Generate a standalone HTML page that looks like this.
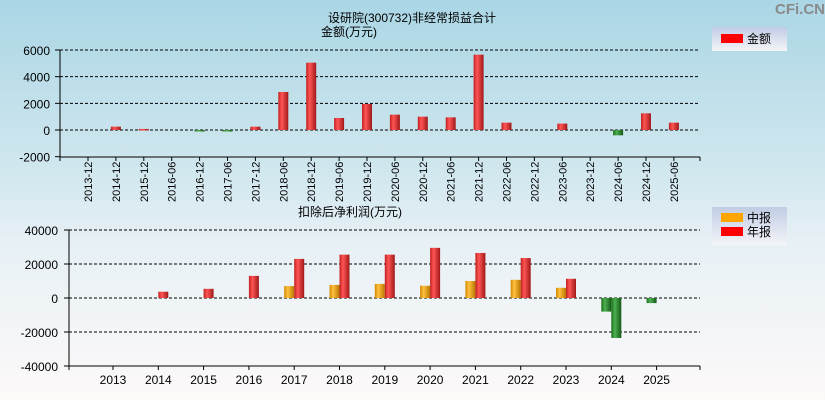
<!DOCTYPE html>
<html><head><meta charset="utf-8"><style>
body{margin:0;width:825px;height:400px;overflow:hidden;background:linear-gradient(#aad6e5,#d3e8ef 45%,#e6f0f5 60%,#fdf9f9);font-family:"Liberation Sans","Noto Sans CJK SC",sans-serif}
svg{position:absolute;left:0;top:0}
text{font-family:"Liberation Sans","Noto Sans CJK SC",sans-serif}
</style></head><body>
<svg width="825" height="400">
<defs>
<linearGradient id="gr" x1="0" x2="1"><stop offset="0" stop-color="#c02020"/><stop offset="0.35" stop-color="#ff5555"/><stop offset="1" stop-color="#a01818"/></linearGradient>
<linearGradient id="gg" x1="0" x2="1"><stop offset="0" stop-color="#1a6e1a"/><stop offset="0.35" stop-color="#4caf50"/><stop offset="1" stop-color="#145a14"/></linearGradient>
<linearGradient id="go" x1="0" x2="1"><stop offset="0" stop-color="#d08800"/><stop offset="0.35" stop-color="#ffc040"/><stop offset="1" stop-color="#b87800"/></linearGradient>
<linearGradient id="lg" x1="0" y1="0" x2="0" y2="1"><stop offset="0" stop-color="#c0cce4"/><stop offset="1" stop-color="#f4f4f8"/></linearGradient>
</defs>
<text x="825" y="14" text-anchor="end" font-size="15" font-weight="bold" fill="#8a8a8a">CFi.CN</text>
<text x="412" y="22" text-anchor="middle" font-size="12">设研院(300732)非经常损益合计</text>
<text x="349" y="36" text-anchor="middle" font-size="12">金额(万元)</text>
<g><rect x="712" y="27" width="75" height="24" fill="url(#lg)"/><rect x="721" y="34" width="22" height="9" fill="#f00"/><text x="747" y="43" font-size="12">金额</text></g>
<text x="350" y="216" text-anchor="middle" font-size="12">扣除后净利润(万元)</text>
<g><rect x="712" y="207" width="75" height="38" fill="url(#lg)"/><rect x="721" y="213" width="22" height="9" fill="#ffa500"/><text x="747" y="222" font-size="12">中报</text><rect x="721" y="227" width="22" height="9" fill="#f00"/><text x="747" y="236" font-size="12">年报</text></g>
<g id="top"></g><g id="bot"></g>
</svg>
<script>
const topCats=["2013-12","2014-12","2015-12","2016-06","2016-12","2017-06","2017-12","2018-06","2018-12","2019-06","2019-12","2020-06","2020-12","2021-06","2021-12","2022-06","2022-12","2023-06","2023-12","2024-06","2024-12","2025-06"];
const topVals=[0,250,80,0,-80,-80,250,2850,5050,900,1950,1150,1000,950,5650,550,0,480,0,-400,1250,550];
const topTicks=[6000,4000,2000,0,-2000];
const botYears=["2013","2014","2015","2016","2017","2018","2019","2020","2021","2022","2023","2024","2025"];
const botMid=[0,0,0,0,7000,7700,8300,7200,10000,10700,6000,-8000,-3000];
const botAnnual=[0,3700,5400,13000,23000,25500,25500,29500,26500,23500,11300,-23500,0];
const botTicks=[40000,20000,0,-20000,-40000];
const NS="http://www.w3.org/2000/svg";
function mk(p,t,a){const e=document.createElementNS(NS,t);for(const k in a)e.setAttribute(k,a[k]);p.appendChild(e);return e;}
const T=document.getElementById('top');
const ty=v=>130-v*(80/6000);
const tx=i=>88+i*27.9;
mk(T,'line',{x1:60,y1:50,x2:60,y2:157,stroke:'#000'});
mk(T,'line',{x1:60,y1:157,x2:700,y2:157,stroke:'#000'});
mk(T,'line',{x1:700,y1:157,x2:700,y2:161,stroke:'#000'});
mk(T,'line',{x1:60,y1:157,x2:60,y2:161,stroke:'#000'});
topTicks.forEach(v=>{const y=ty(v);
 if(v>-2000){const l=mk(T,'line',{x1:60,y1:y,x2:700,y2:y,stroke:'#000','stroke-dasharray':'3,2'});}
 mk(T,'line',{x1:55,y1:y,x2:60,y2:y,stroke:'#000'});
 const t=mk(T,'text',{x:50,y:y+5,'text-anchor':'end','font-size':12});t.textContent=v;
 });
topCats.forEach((c,i)=>{const x=tx(i);
 mk(T,'line',{x1:x,y1:157,x2:x,y2:161,stroke:'#000'});
 const t=mk(T,'text',{x:0,y:0,'font-size':11,transform:`translate(${x+4},202) rotate(-90)`});t.textContent=c;
 
 const v=topVals[i];if(v===0)return;
 const y0=ty(0),y1=ty(v);
 const r=mk(T,'rect',{x:x-5,y:Math.min(y0,y1),width:10,height:Math.max(1.5,Math.abs(y1-y0)),fill:v>0?'url(#gr)':'url(#gg)'});
 });
const B=document.getElementById('bot');
const by=v=>298-v*(68/40000);
const bx=i=>113+i*45.3;
mk(B,'line',{x1:69,y1:230,x2:69,y2:366,stroke:'#000'});
mk(B,'line',{x1:69,y1:366,x2:700,y2:366,stroke:'#000'});
mk(B,'line',{x1:69,y1:366,x2:69,y2:370,stroke:'#000'});
mk(B,'line',{x1:700,y1:366,x2:700,y2:370,stroke:'#000'});
botTicks.forEach(v=>{const y=by(v);
 if(v>-40000){const l=mk(B,'line',{x1:69,y1:y,x2:700,y2:y,stroke:'#000','stroke-dasharray':'3,2'});}
 mk(B,'line',{x1:64,y1:y,x2:69,y2:y,stroke:'#000'});
 const t=mk(B,'text',{x:58,y:y+5,'text-anchor':'end','font-size':12});t.textContent=v;
 });
botYears.forEach((c,i)=>{const x=bx(i);
 mk(B,'line',{x1:x,y1:366,x2:x,y2:370,stroke:'#000'});
 const t=mk(B,'text',{x:x,y:384,'text-anchor':'middle','font-size':12});t.textContent=c;
 
 [[botMid[i],-10,'url(#go)','mid'],[botAnnual[i],0,'url(#gr)','annual']].forEach(([v,off,f,n])=>{
  if(v===0)return;const y0=by(0),y1=by(v);
  const r=mk(B,'rect',{x:x+off,y:Math.min(y0,y1),width:10,height:Math.abs(y1-y0),fill:v>0?f:'url(#gg)'});
  });});
</script>
</body></html>
